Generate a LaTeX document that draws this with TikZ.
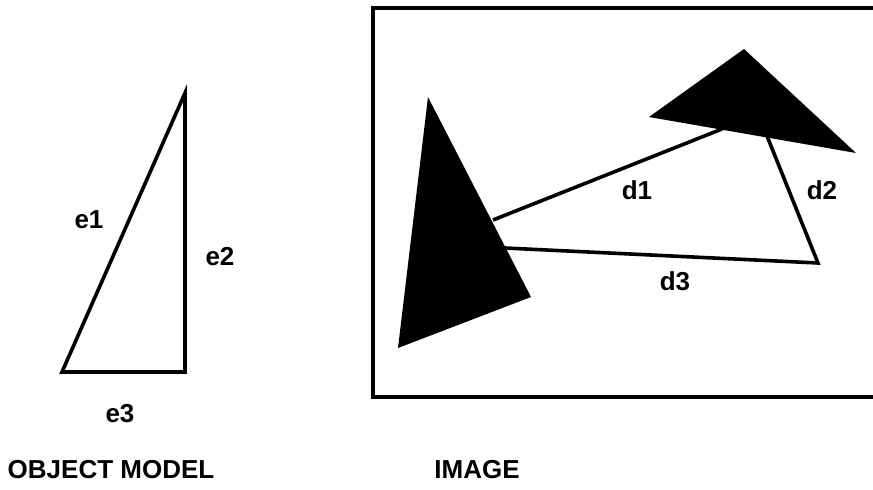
\documentclass[tikz,border=0pt]{standalone}
\usepackage{fontspec}
\setmainfont{Liberation Sans}
\begin{document}
\begin{tikzpicture}[x=1pt,y=-1pt,
  lbl/.style={font=\fontsize{26}{30}\selectfont\bfseries, inner sep=0pt},
  edge/.style={line width=3.6pt, line join=miter}]
\useasboundingbox (0,0) rectangle (873,490);

% object model
\coordinate (top) at (185,93);
\coordinate (bl) at (62,372);
\coordinate (br) at (185,372);
\draw[edge] (top) -- (bl) -- (br) -- cycle;
\node[lbl] (e1) at (89,220) {e1};
\node[lbl] (e2) at (220,257) {e2};
\node[lbl] (e3) at (120,414) {e3};
\node[lbl] (om) at (111,470) {OBJECT MODEL};

% image
\draw[line width=4.5pt] (880,8) -- (373,8) -- (373,397) -- (880,397);
\coordinate (a1) at (428,97);
\coordinate (a2) at (398,348);
\coordinate (a3) at (531,297);
\coordinate (b1) at (744,49);
\coordinate (b2) at (649,117);
\coordinate (b3) at (856,153);
\coordinate (p1) at (493,220);
\coordinate (p2) at (722,129);
\coordinate (p3) at (767,136);
\coordinate (p4) at (818,263);
\coordinate (p5) at (505,248);
\draw[edge] (p1) -- (p2);
\draw[edge] (p3) -- (p4) -- (p5);
\fill (a1) -- (a2) -- (a3) -- cycle;
\fill (b1) -- (b2) -- (b3) -- cycle;
\node[lbl] (d1) at (637,190) {d1};
\node[lbl] (d2) at (822,190) {d2};
\node[lbl] (d3) at (675,281) {d3};
\node[lbl] (img) at (477,470) {IMAGE};
\end{tikzpicture}
\end{document}
